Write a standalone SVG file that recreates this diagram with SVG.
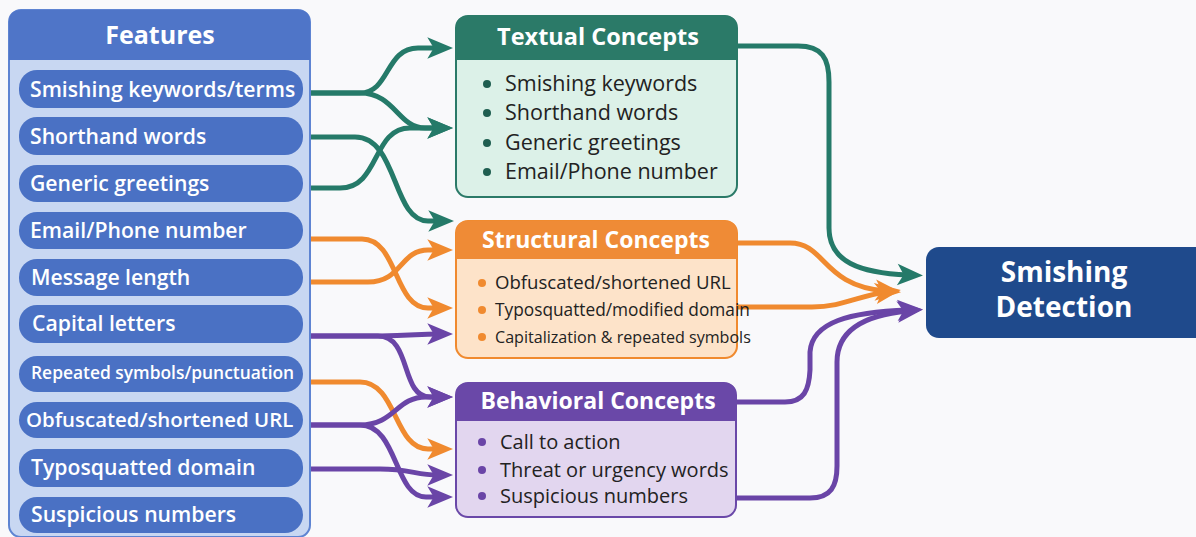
<svg xmlns="http://www.w3.org/2000/svg" width="1196" height="537" viewBox="0 0 1196 537">
  <style>
    .pill { fill: #4a71c4; }
    .pill-text { font-family: "Open Sans", "Liberation Sans", sans-serif; font-weight: 600; fill: #ffffff; }
    .title { font-family: "Open Sans", "Liberation Sans", sans-serif; font-weight: 700; fill: #ffffff; text-anchor: middle; }
    .item { font-family: "Open Sans", "Liberation Sans", sans-serif; font-weight: 400; fill: #222222; }
    .conn { fill: none; stroke-width: 5; stroke-linecap: butt; stroke-linejoin: round; }
    .teal { stroke: #257a69; }
    .orange { stroke: #f08a2f; }
    .purple { stroke: #6a45a7; }
  </style>
  <defs>
    <marker id="arrow-teal" markerUnits="userSpaceOnUse" markerWidth="30" markerHeight="30" viewBox="-12 -12 28 24" refX="0" refY="0" orient="auto">
      <path d="M14,0 L-10,-10 L-4,0 L-10,10 Z" fill="#257a69"/>
    </marker>
    <marker id="arrow-orange" markerUnits="userSpaceOnUse" markerWidth="30" markerHeight="30" viewBox="-12 -12 28 24" refX="0" refY="0" orient="auto">
      <path d="M14,0 L-10,-10 L-4,0 L-10,10 Z" fill="#f08a2f"/>
    </marker>
    <marker id="arrow-purple" markerUnits="userSpaceOnUse" markerWidth="30" markerHeight="30" viewBox="-12 -12 28 24" refX="0" refY="0" orient="auto">
      <path d="M14,0 L-10,-10 L-4,0 L-10,10 Z" fill="#6a45a7"/>
    </marker>
  </defs>

  <rect x="0" y="0" width="1196" height="537" fill="#f9f9fb"/>

  <!-- Connectors -->
  <g id="connectors">
    <!-- textual links -->
    <path class="conn teal" marker-end="url(#arrow-teal)" d="M310,93 H360 C390,93 385,48 418,48 H438"/>
    <path class="conn teal" marker-end="url(#arrow-teal)" d="M310,93 H360 C395,93 398,128 425,128 H438"/>
    <path class="conn teal" marker-end="url(#arrow-teal)" d="M310,137 H355 C398,137 392,221 428,221 H439"/>
    <path class="conn teal" marker-end="url(#arrow-teal)" d="M310,188 H340 C380,188 372,128 410,128 H438"/>
    <path class="conn teal" marker-end="url(#arrow-teal)" d="M737,46 H798 C822,46 829,58 829,82 V228 C829,262 860,273 908,275"/>
    <!-- structural links -->
    <path class="conn orange" marker-end="url(#arrow-orange)" d="M310,239 H362 C398,239 394,308 428,308 H438"/>
    <path class="conn orange" marker-end="url(#arrow-orange)" d="M310,282 H368 C402,282 400,250 428,250 H438"/>
    <path class="conn orange" marker-end="url(#arrow-orange)" d="M310,382 H360 C397,382 394,449 428,449 H438"/>
    <path class="conn orange" marker-end="url(#arrow-orange)" d="M737,243 H790 C826,243 822,286 886,291"/>
    <path class="conn orange" marker-end="url(#arrow-orange)" d="M737,307 H812 C842,307 858,296 886,292"/>
    <!-- behavioral links -->
    <path class="conn purple" marker-end="url(#arrow-purple)" d="M310,336 H380 C410,336 418,334 438,334"/>
    <path class="conn purple" marker-end="url(#arrow-purple)" d="M310,336 H378 C412,336 400,397 430,397 H438"/>
    <path class="conn purple" marker-end="url(#arrow-purple)" d="M310,425 H360 C395,425 396,397 426,397 H438"/>
    <path class="conn purple" marker-end="url(#arrow-purple)" d="M310,425 H360 C398,425 394,497 426,497 H438"/>
    <path class="conn purple" marker-end="url(#arrow-purple)" d="M310,469 H380 C410,469 416,475 438,475"/>
    <path class="conn purple" marker-end="url(#arrow-purple)" d="M737,402 H785 C804,402 809,390 810,370 V352 C812,322 850,312 908,310"/>
    <path class="conn purple" marker-end="url(#arrow-purple)" d="M737,498 H810 C831,498 837,486 837,466 V362 C837,330 865,315 908,311"/>
  </g>

  <!-- Features panel -->
  <g id="features">
    <rect x="9" y="10" width="301" height="527" rx="12" fill="#c8d7f2" stroke="#5e84d2" stroke-width="2"/>
    <path d="M9,60 V22 Q9,10 21,10 H298 Q310,10 310,22 V60 Z" fill="#4f75c8"/>
    <text class="title" x="160" y="44" font-size="25">Features</text>
  </g>
  <g id="f-keywords"><rect class="pill" x="19" y="70" width="284" height="38" rx="18"/><text class="pill-text" x="30" y="97" font-size="21.2">Smishing keywords/terms</text></g>
  <g id="f-shorthand"><rect class="pill" x="19" y="117" width="284" height="38" rx="18"/><text class="pill-text" x="30" y="144" font-size="21.2">Shorthand words</text></g>
  <g id="f-greetings"><rect class="pill" x="19" y="165" width="284" height="37" rx="18"/><text class="pill-text" x="30" y="191" font-size="21.2">Generic greetings</text></g>
  <g id="f-email"><rect class="pill" x="19" y="212" width="284" height="37" rx="18"/><text class="pill-text" x="30" y="238" font-size="21.2">Email/Phone number</text></g>
  <g id="f-length"><rect class="pill" x="19" y="259" width="284" height="37" rx="18"/><text class="pill-text" x="31" y="285" font-size="21.2">Message length</text></g>
  <g id="f-capital"><rect class="pill" x="19" y="305" width="284" height="38" rx="18"/><text class="pill-text" x="32" y="331" font-size="21.2">Capital letters</text></g>
  <g id="f-repeated"><rect class="pill" x="19" y="356" width="284" height="36" rx="18"/><text class="pill-text" x="31" y="379" font-size="17.4">Repeated symbols/punctuation</text></g>
  <g id="f-url"><rect class="pill" x="19" y="402" width="284" height="36" rx="18"/><text class="pill-text" x="26" y="427" font-size="20.4">Obfuscated/shortened URL</text></g>
  <g id="f-typo"><rect class="pill" x="19" y="449" width="284" height="38" rx="18"/><text class="pill-text" x="31" y="475" font-size="21.2">Typosquatted domain</text></g>
  <g id="f-numbers"><rect class="pill" x="19" y="497" width="284" height="36" rx="18"/><text class="pill-text" x="31" y="522" font-size="21.2">Suspicious numbers</text></g>

  <!-- Textual Concepts -->
  <g id="textual">
    <rect x="456" y="16" width="281" height="181" rx="12" fill="#dcf1e8" stroke="#2b7a68" stroke-width="2"/>
    <path d="M456,60 V28 Q456,16 468,16 H725 Q737,16 737,28 V60 Z" fill="#2b7a68"/>
    <text class="title" x="598" y="45" font-size="23.5">Textual Concepts</text>
    <g fill="#1f5e50">
      <circle cx="487" cy="84" r="4"/><circle cx="487" cy="113" r="4"/><circle cx="487" cy="143" r="4"/><circle cx="487" cy="172" r="4"/>
    </g>
    <text class="item" x="505" y="91" font-size="21.5">Smishing keywords</text>
    <text class="item" x="505" y="120" font-size="21.5">Shorthand words</text>
    <text class="item" x="505" y="150" font-size="21.5">Generic greetings</text>
    <text class="item" x="505" y="179" font-size="21.5">Email/Phone number</text>
  </g>

  <!-- Structural Concepts -->
  <g id="structural">
    <rect x="456" y="221" width="281" height="137" rx="12" fill="#fde3c9" stroke="#f08a2f" stroke-width="2"/>
    <path d="M456,259 V233 Q456,221 468,221 H725 Q737,221 737,233 V259 Z" fill="#ef8b36"/>
    <text class="title" x="596" y="248" font-size="23">Structural Concepts</text>
    <g fill="#f08a2f">
      <circle cx="482" cy="283" r="4"/><circle cx="482" cy="310" r="4"/><circle cx="482" cy="337" r="4"/>
    </g>
    <text class="item" x="495" y="289" font-size="18.6">Obfuscated/shortened URL</text>
    <text class="item" x="495" y="316" font-size="17.3">Typosquatted/modified domain</text>
    <text class="item" x="495" y="343" font-size="16.1">Capitalization &amp; repeated symbols</text>
  </g>

  <!-- Behavioral Concepts -->
  <g id="behavioral">
    <rect x="456" y="383" width="280" height="134" rx="12" fill="#e2d6ef" stroke="#6a48a8" stroke-width="2"/>
    <path d="M456,421 V395 Q456,383 468,383 H724 Q736,383 736,395 V421 Z" fill="#6a48a8"/>
    <text class="title" x="598" y="409" font-size="23">Behavioral Concepts</text>
    <g fill="#6a45a7">
      <circle cx="482" cy="442" r="4"/><circle cx="482" cy="470" r="4"/><circle cx="482" cy="496" r="4"/>
    </g>
    <text class="item" x="500" y="449" font-size="20">Call to action</text>
    <text class="item" x="500" y="477" font-size="20">Threat or urgency words</text>
    <text class="item" x="500" y="503" font-size="20">Suspicious numbers</text>
  </g>

  <!-- Smishing Detection -->
  <g id="detection">
    <rect x="926" y="247" width="284" height="91" rx="13" fill="#1f4a8c"/>
    <text class="title" x="1064" y="282" font-size="28">Smishing</text>
    <text class="title" x="1064" y="317" font-size="28">Detection</text>
  </g>
</svg>
